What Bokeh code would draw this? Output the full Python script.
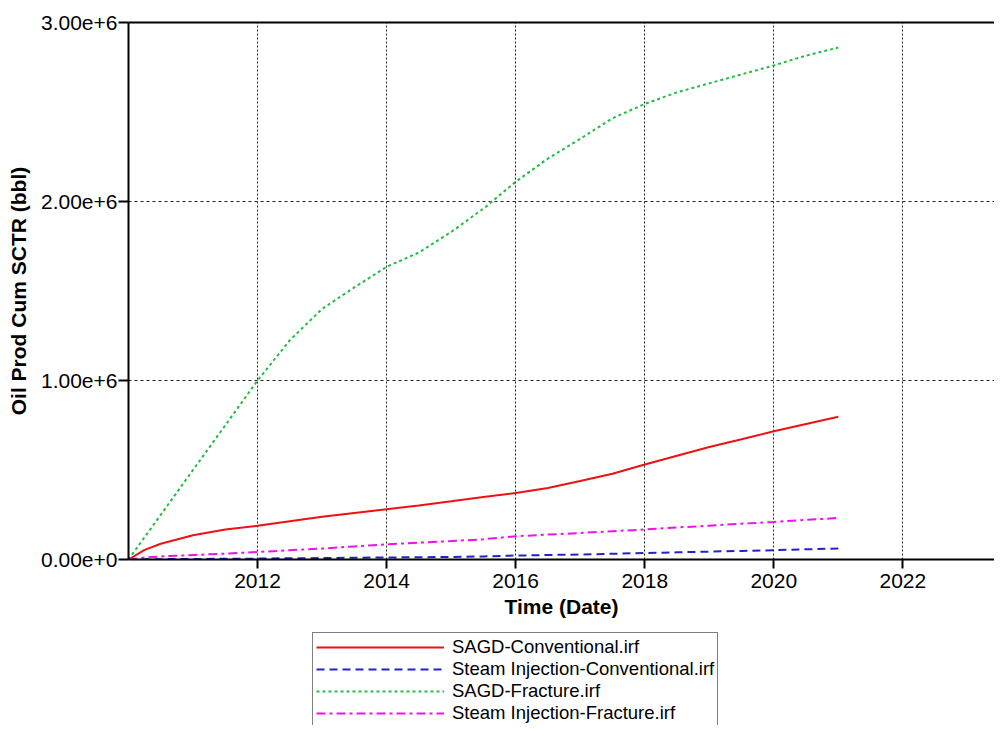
from bokeh.plotting import figure
from bokeh.models import (Range1d, FixedTicker, LinearAxis, Legend, LegendItem)
from bokeh.layouts import column
from bokeh.embed import file_html
from bokeh.resources import INLINE

# ---- data (decimal years, cumulative oil in bbl) ----
years = [2010.0, 2010.25, 2010.5, 2011.0, 2011.5, 2012.0, 2012.5, 2013.0, 2013.5,
         2014.0, 2014.5, 2015.0, 2015.5, 2016.0, 2016.5, 2017.0, 2017.5, 2018.0,
         2018.5, 2019.0, 2019.5, 2020.0, 2020.5, 2021.0]

sagd_conventional = [0, 54000, 88000, 135000, 167000, 188000, 214000, 239000, 260000,
                     281000, 302000, 325000, 349000, 372000, 400000, 438000, 479000, 531000,
                     580000, 628000, 672000, 716000, 757000, 797000]

steam_conventional = [0, 1000, 2000, 3000, 4000, 5000, 7000, 8000, 10000,
                      11000, 13000, 14000, 17000, 22000, 25000, 28000, 32000, 36000,
                      40000, 44000, 48000, 52000, 57000, 61000]

sagd_fracture = [0, 125000, 250000, 500000, 750000, 1000000, 1225000, 1400000, 1520000,
                 1635000, 1715000, 1830000, 1960000, 2110000, 2240000, 2350000, 2465000, 2545000,
                 2610000, 2660000, 2710000, 2760000, 2815000, 2860000]

steam_fracture = [0, 11000, 17000, 25000, 33000, 42000, 52000, 61000, 73000,
                  85000, 94000, 103000, 113000, 130000, 139000, 148000, 158000, 168000,
                  179000, 189000, 200000, 210000, 221000, 232000]

series_names = ["SAGD-Conventional.irf", "Steam Injection-Conventional.irf",
                "SAGD-Fracture.irf", "Steam Injection-Fracture.irf"]

x_ticks = [2012, 2014, 2016, 2018, 2020, 2022]
y_ticks = [0, 1000000, 2000000, 3000000]
y_tick_labels = ["0.00e+0", "1.00e+6", "2.00e+6", "3.00e+6"]

FONT = "Liberation Sans"
W = 994

styles = [dict(line_color="#ee1111", line_width=2),
          dict(line_color="#2222cc", line_width=2, line_dash="8 5"),
          dict(line_color="#22bb44", line_width=2, line_dash="3 3"),
          dict(line_color="#ee11ee", line_width=2, line_dash="9 4 3 4")]

p = figure(width=W, height=630, output_backend="svg", toolbar_location=None,
           x_range=Range1d(2010, 2023.42), y_range=Range1d(0, 3000000),
           min_border_left=128, min_border_right=0, min_border_top=22,
           min_border_bottom=71)
p.outline_line_color = None
p.background_fill_color = "white"
p.border_fill_color = "white"

# axes
for ax in (p.xaxis[0], p.yaxis[0]):
    ax.axis_line_width = 2
    ax.axis_line_color = "black"
    ax.major_tick_line_width = 2
    ax.major_tick_line_color = "black"
    ax.minor_tick_line_color = None
    ax.major_tick_in = 0
    ax.major_label_text_font = FONT
    ax.major_label_text_font_size = "21px"
    ax.major_label_text_color = "black"
    ax.axis_label_text_font = FONT
    ax.axis_label_text_font_size = "21px"
    ax.axis_label_text_font_style = "bold"
    ax.axis_label_text_color = "black"

p.xaxis.ticker = FixedTicker(ticks=x_ticks)
p.xaxis.major_tick_out = 9
p.xaxis.major_label_standoff = 5
p.xaxis.axis_label = "Time (Date)"
p.xaxis.axis_label_standoff = 4

p.yaxis.ticker = FixedTicker(ticks=y_ticks)
p.yaxis.major_label_overrides = {t: l for t, l in zip(y_ticks, y_tick_labels)}
p.yaxis.major_tick_out = 10
p.yaxis.major_label_standoff = 1
p.yaxis.axis_label = "Oil Prod Cum SCTR (bbl)"
p.yaxis.axis_label_standoff = 8

top = LinearAxis(ticker=FixedTicker(ticks=[]), axis_line_width=2, axis_line_color="black",
                 major_tick_line_color=None, minor_tick_line_color=None,
                 major_label_text_font_size="0px", major_tick_out=0, major_label_standoff=0)
p.add_layout(top, "above")

# grids
p.xgrid.ticker = FixedTicker(ticks=x_ticks)
p.xgrid.grid_line_color = "#222222"
p.xgrid.grid_line_dash = "2 2"
p.xgrid.grid_line_width = 1
p.ygrid.ticker = FixedTicker(ticks=y_ticks)
p.ygrid.grid_line_color = "#222222"
p.ygrid.grid_line_dash = "3 3"
p.ygrid.grid_line_width = 1

# lines
all_series = [sagd_conventional, steam_conventional, sagd_fracture, steam_fracture]
for ys, st in zip(all_series, styles):
    p.line(years, ys, **st)

# legend panel below the chart (proxy renderers lie outside its visible range)
lp = figure(width=W, height=95, output_backend="svg", toolbar_location=None,
            x_range=Range1d(0, 1), y_range=Range1d(0, 1),
            x_axis_location=None, y_axis_location=None, min_border=0)
lp.outline_line_color = None
lp.xgrid.visible = False
lp.ygrid.visible = False
lp.background_fill_color = "white"
lp.border_fill_color = "white"
leg_renderers = [lp.line([-5, -4], [-5, -4], **st) for st in styles]

legend = Legend(items=[LegendItem(label=n, renderers=[r]) for n, r in
                       zip(series_names, leg_renderers)],
                location=(184, -3), orientation="vertical",
                border_line_color="black", border_line_width=1,
                background_fill_color="white", background_fill_alpha=1,
                label_text_font=FONT, label_text_font_size="18.5px", label_text_color="black",
                glyph_width=128, glyph_height=20, label_height=20, spacing=0,
                padding=3, margin=0, label_standoff=8)
lp.add_layout(legend)

open("out.html", "w").write(file_html(column(p, lp, spacing=0), INLINE))
